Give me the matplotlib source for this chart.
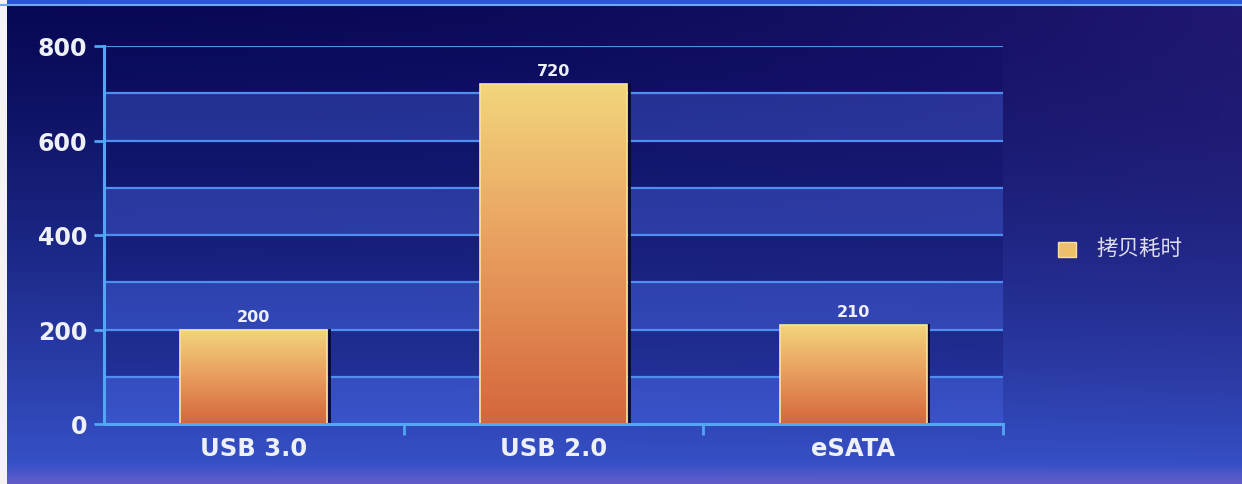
import numpy as np
import matplotlib
matplotlib.use("Agg")
from matplotlib import pyplot as plt
from matplotlib.colors import LinearSegmentedColormap
from matplotlib.patches import Rectangle

categories = ["USB 3.0", "USB 2.0", "eSATA"]
copy_time = [200, 720, 210]
series_name = "拷贝耗时"
y_ticks = [0, 200, 400, 600, 800]

plt.rcParams["font.family"] = ["DejaVu Sans", "Noto Sans CJK SC"]

fig = plt.figure(figsize=(12.42, 4.85), dpi=100)

# background: dark navy at the top, brighter blue at the bottom, purple on the right
bg = fig.add_axes([0, 0, 1, 1], zorder=-10)
h, w = 240, 400
yy, xx = np.mgrid[0:1:h * 1j, 0:1:w * 1j]
top = np.array([0.03, 0.03, 0.33])
bottom = np.array([0.22, 0.33, 0.80])
purple = np.array([0.20, 0.14, 0.52])
haze = np.array([0.45, 0.38, 0.78])
t = yy[..., None] ** 1.3
img = top * (1 - t) + bottom * t
mix = (xx[..., None] ** 2) * (1 - yy[..., None]) * 0.6
img = img * (1 - mix) + purple * mix
# lilac haze along the bottom edge
hz = np.clip((yy[..., None] - 0.96) / 0.04, 0, 1) * 0.7
img = img * (1 - hz) + haze * hz
bg.imshow(img, extent=[0, 1, 0, 1], aspect="auto", origin="upper")
bg.set_xlim(0, 1)
bg.set_ylim(0, 1)
bg.axis("off")
# top strip and left white edge
bg.add_patch(Rectangle((0, 0.99), 1, 0.01, color="#2a55d8", lw=0))
bg.plot([0, 1], [0.988, 0.988], color="#6fa8f5", lw=1.5)
bg.add_patch(Rectangle((0, 0), 0.006, 1, color="#f4f2f6", lw=0))

ax = fig.add_axes([104 / 1242, 1 - 425 / 485, (1003 - 104) / 1242, (425 - 47) / 485])
ax.patch.set_alpha(0)
x = np.arange(len(categories))

# alternating bands and gridlines every 100
for lo in range(0, 800, 100):
    if (lo // 100) % 2 == 0:
        ax.axhspan(lo, lo + 100, color="#4a6ae8", alpha=0.35, lw=0, zorder=0)
    else:
        ax.axhspan(lo, lo + 100, color="#0a0a60", alpha=0.25, lw=0, zorder=0)
for gy in range(100, 801, 100):
    ax.axhline(gy, color="#4f8ff0", lw=1.6, zorder=1)

bar_cmap = LinearSegmentedColormap.from_list("bar", ["#d4663c", "#e89c5e", "#f2d67c"])
grad = np.linspace(0, 1, 256).reshape(-1, 1)
bars = ax.bar(x, copy_time, width=0.49, color="none", edgecolor="#f6e79a", lw=1.2, zorder=3)
for b, v in zip(bars, copy_time):
    x0, y0 = b.get_x(), b.get_y()
    im = ax.imshow(grad, extent=[x0, x0 + b.get_width(), y0, y0 + b.get_height()],
                   origin="lower", aspect="auto", cmap=bar_cmap, zorder=2)
    im.set_clip_path(b)
    # dark shadow on the right side of the bar
    ax.plot([x0 + b.get_width() + 0.006] * 2, [0, v], color="#0a0830", lw=2, zorder=2)
    ax.text(b.get_x() + b.get_width() / 2, v + 12, f"{v}", ha="center", va="bottom",
            color="#eef0f8", fontsize=11.5, fontweight="bold", zorder=4)
ax.set_xlim(-0.5, len(categories) - 0.5)
ax.set_ylim(0, 800)

for side in ["top", "right"]:
    ax.spines[side].set_visible(False)
for side in ["left", "bottom"]:
    ax.spines[side].set_color("#52a6f4")
    ax.spines[side].set_linewidth(2.2)
    ax.spines[side].set_zorder(5)

ax.set_yticks(y_ticks)
ax.set_yticklabels([str(v) for v in y_ticks])
ax.tick_params(axis="y", colors="#52a6f4", length=7, width=2, labelcolor="#eef0f8",
               labelsize=17, pad=5)
ax.set_xticks(x)
ax.set_xticklabels(categories)
ax.tick_params(axis="x", length=0, labelcolor="#eef0f8", labelsize=17.5, pad=9)
for lab in ax.get_yticklabels() + ax.get_xticklabels():
    lab.set_fontweight("bold")
ax.set_xticks(np.arange(0.5, len(categories) - 0.4, 1), minor=True)
ax.tick_params(axis="x", which="minor", colors="#52a6f4", length=8, width=2)

# legend
fig.patches.append(Rectangle((1058 / 1242, 1 - 258 / 485), 18 / 1242, 15 / 485,
                             transform=fig.transFigure, facecolor="#eec068",
                             edgecolor="#f6e0a0", lw=1))
fig.text(1096 / 1242, 1 - 250 / 485, series_name, color="#dcdcec", fontsize=15.5,
         va="center", ha="left", family=["Noto Sans CJK SC", "DejaVu Sans"])

fig.savefig("out.png", dpi=100)
